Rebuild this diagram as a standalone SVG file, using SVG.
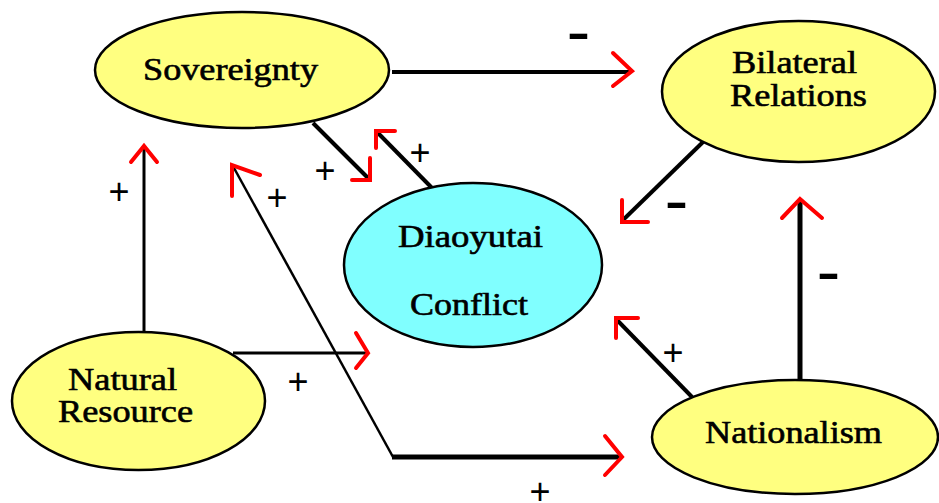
<svg xmlns="http://www.w3.org/2000/svg" width="939" height="503" viewBox="0 0 939 503">
<style>
.node{stroke:#000;stroke-width:2.5}
.yel{fill:#ffff80}
.cy{fill:#80ffff}
.lbl{font-family:"Liberation Serif","Times New Roman",serif;font-size:31px;fill:#000;text-anchor:middle;stroke:#000;stroke-width:0.6}
.ln{stroke:#000;fill:none;stroke-linecap:butt}
.hd{stroke:#ff0000;fill:none;stroke-width:4;stroke-linecap:round;stroke-linejoin:miter}
.plus{font-family:"Liberation Sans",Arial,sans-serif;font-size:36px;fill:#000;text-anchor:middle}
.minus{font-family:"Liberation Sans",Arial,sans-serif;font-weight:bold;font-size:44px;fill:#000}
</style>
<rect width="939" height="503" fill="#fff"/>
<g id="connectors">
  <line class="ln" x1="392" y1="72" x2="630" y2="72" stroke-width="4"/>
  <polyline class="hd" points="613,53 632,71 613,86"/>
  <line class="ln" x1="313" y1="123" x2="368" y2="178" stroke-width="4"/>
  <polyline class="hd" points="370,158 370,180 352,180"/>
  <line class="ln" x1="432" y1="188" x2="378" y2="133" stroke-width="4"/>
  <polyline class="hd" points="395,131 376,131 376,148"/>
  <line class="ln" x1="144" y1="332" x2="144" y2="147" stroke-width="3"/>
  <polyline class="hd" points="131,162 144,146 157,162"/>
  <line class="ln" x1="233" y1="353" x2="367" y2="353" stroke-width="3"/>
  <polyline class="hd" points="356,333 368,353 356,368"/>
  <line class="ln" x1="234" y1="168" x2="393" y2="457" stroke-width="2.5"/>
  <line class="ln" x1="392" y1="457" x2="620" y2="457" stroke-width="5"/>
  <polyline class="hd" points="260,175 232,165 232,196"/>
  <polyline class="hd" points="605,436 622,457 605,475"/>
  <line class="ln" x1="703" y1="142" x2="623" y2="220" stroke-width="4"/>
  <polyline class="hd" points="622,200 622,222 648,222"/>
  <line class="ln" x1="800" y1="380" x2="800" y2="200" stroke-width="5"/>
  <polyline class="hd" points="782,218 800,199 822,218"/>
  <line class="ln" x1="692" y1="397" x2="617" y2="320" stroke-width="4"/>
  <polyline class="hd" points="638,318 616,318 616,338"/>
  <text class="minus" x="567" y="48" textLength="23" lengthAdjust="spacingAndGlyphs">-</text>
  <text class="minus" x="817" y="288" textLength="23" lengthAdjust="spacingAndGlyphs">-</text>
  <text class="minus" x="665" y="217" textLength="23" lengthAdjust="spacingAndGlyphs">-</text>
  <text class="plus" x="325" y="183">+</text>
  <text class="plus" x="420" y="165">+</text>
  <text class="plus" x="119" y="204">+</text>
  <text class="plus" x="277" y="210">+</text>
  <text class="plus" x="298" y="394">+</text>
  <text class="plus" x="540" y="504">+</text>
  <text class="plus" x="673" y="365">+</text>
</g>
<g id="sovereignty">
  <ellipse class="node yel" cx="242" cy="70" rx="147" ry="58"/>
  <text class="lbl" x="230.5" y="80" textLength="175" lengthAdjust="spacingAndGlyphs">Sovereignty</text>
</g>
<g id="bilateral">
  <ellipse class="node yel" cx="798.5" cy="91.5" rx="136.5" ry="70.5"/>
  <text class="lbl" x="794.5" y="73" textLength="125" lengthAdjust="spacingAndGlyphs">Bilateral</text>
  <text class="lbl" x="798.5" y="106" textLength="137" lengthAdjust="spacingAndGlyphs">Relations</text>
</g>
<g id="diaoyutai">
  <ellipse class="node cy" cx="473" cy="265" rx="129" ry="82"/>
  <text class="lbl" x="470.5" y="247" textLength="145" lengthAdjust="spacingAndGlyphs">Diaoyutai</text>
  <text class="lbl" x="469" y="315" textLength="118" lengthAdjust="spacingAndGlyphs">Conflict</text>
</g>
<g id="natural">
  <ellipse class="node yel" cx="138.5" cy="401" rx="126.5" ry="69"/>
  <text class="lbl" x="122.5" y="390" textLength="109" lengthAdjust="spacingAndGlyphs">Natural</text>
  <text class="lbl" x="125.5" y="422" textLength="135" lengthAdjust="spacingAndGlyphs">Resource</text>
</g>
<g id="nationalism">
  <ellipse class="node yel" cx="795" cy="437" rx="143" ry="57"/>
  <text class="lbl" x="793.5" y="443" textLength="177" lengthAdjust="spacingAndGlyphs">Nationalism</text>
</g>
</svg>
